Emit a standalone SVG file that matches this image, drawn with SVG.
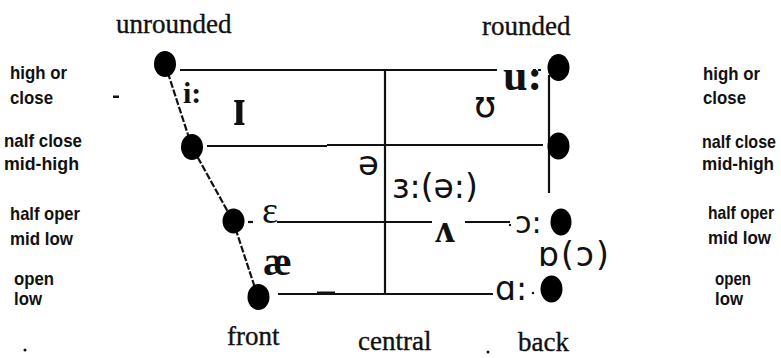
<svg xmlns="http://www.w3.org/2000/svg" width="781" height="358" viewBox="0 0 781 358">
<style>
.lbl{font-family:"Liberation Sans",Arial,sans-serif;font-weight:bold;font-size:19px;fill:#111}
.hdr{font-family:"Liberation Serif","Times New Roman",serif;font-size:27px;fill:#111;stroke:#111;stroke-width:0.35}
.ser{font-family:"Liberation Serif","Times New Roman",serif;fill:#111}
.sans{font-family:"DejaVu Sans",sans-serif;fill:#111}
.ln{stroke:#111;stroke-width:2.2;fill:none}
.dash{stroke-dasharray:7 2}
.dot{fill:#000}
</style>
<rect width="781" height="358" fill="#fff"/>
<g id="connectors">
  <line class="ln" x1="180" y1="70" x2="497" y2="70"/>
  <line class="ln" x1="207" y1="146" x2="327" y2="146"/>
  <line class="ln" x1="327" y1="145" x2="543" y2="145"/>
  <line class="ln" x1="385" y1="70" x2="385" y2="294"/>
  <line class="ln" x1="277" y1="222" x2="432" y2="222"/>
  <line class="ln" x1="465" y1="222" x2="510" y2="222"/>
  <line class="ln" x1="278" y1="294" x2="493" y2="294"/>
  <rect x="317" y="291.5" width="18" height="3.5" fill="#111"/>
  <polyline class="ln dash" points="165,64 192,147 233,221 258,297"/>
  <line class="ln" x1="549" y1="75" x2="549" y2="193"/>
  <line class="ln" x1="248" y1="222" x2="253" y2="222"/>
  <line class="ln" x1="533" y1="70" x2="542" y2="70" stroke-dasharray="3 2"/>
</g>
<g id="dot-front-high"><ellipse class="dot" cx="165" cy="64" rx="11" ry="13"/></g>
<g id="dot-front-midhigh"><ellipse class="dot" cx="192" cy="147" rx="11" ry="13"/></g>
<g id="dot-front-midlow"><ellipse class="dot" cx="233.5" cy="221" rx="11" ry="12.5"/></g>
<g id="dot-front-low"><ellipse class="dot" cx="258.5" cy="297" rx="11" ry="13"/></g>
<g id="dot-back-high"><ellipse class="dot" cx="558.5" cy="67.5" rx="11" ry="13.5"/></g>
<g id="dot-back-midhigh"><ellipse class="dot" cx="558.5" cy="146" rx="11" ry="13.5"/></g>
<g id="dot-back-midlow"><ellipse class="dot" cx="561" cy="222" rx="10.5" ry="13.5"/></g>
<g id="dot-back-low"><ellipse class="dot" cx="551.5" cy="289" rx="11" ry="13.5"/></g>
<g id="vowels">
  <text class="ser" font-weight="bold" font-size="30" x="183" y="103">i:</text>
  <text class="ser" font-weight="bold" font-size="44" transform="translate(233,125) scale(1,1.25)">ɪ</text>
  <text class="sans" font-size="36" x="474" y="117">ʊ</text>
  <text class="ser" font-weight="bold" font-size="44" x="503" y="90">u:</text>
  <text class="sans" font-size="34" x="358" y="175">ə</text>
  <text class="sans" font-size="33" x="392" y="198">ɜ:(ə:)</text>
  <text class="ser" font-size="38" x="262" y="223">ɛ</text>
  <text class="ser" font-weight="bold" font-size="40" x="263" y="275">æ</text>
  <text class="ser" font-weight="bold" font-size="40" x="435" y="242">ʌ</text>
  <text class="sans" font-size="30" x="515" y="233">ɔ:</text>
  <text class="sans" font-size="33" x="538" y="266" letter-spacing="2">ɒ(ɔ)</text>
  <text class="sans" font-size="33" x="495" y="300">ɑ:</text>
</g>
<g id="headers">
  <text class="hdr" x="116" y="33">unrounded</text>
  <text class="hdr" x="482" y="35">rounded</text>
  <text class="hdr" x="227" y="345">front</text>
  <text class="hdr" x="358" y="350">central</text>
  <text class="hdr" x="518" y="351">back</text>
</g>
<g id="left-labels">
  <text class="lbl" x="10" y="79" textLength="57" lengthAdjust="spacingAndGlyphs">high or</text>
  <text class="lbl" x="10" y="104" textLength="43" lengthAdjust="spacingAndGlyphs">close</text>
  <text class="lbl" x="4" y="147" textLength="78" lengthAdjust="spacingAndGlyphs">nalf close</text>
  <text class="lbl" x="4" y="170" textLength="75" lengthAdjust="spacingAndGlyphs">mid-high</text>
  <text class="lbl" x="10" y="220" textLength="70" lengthAdjust="spacingAndGlyphs">half oper</text>
  <text class="lbl" x="10" y="245" textLength="63" lengthAdjust="spacingAndGlyphs">mid low</text>
  <text class="lbl" x="14" y="285" textLength="40" lengthAdjust="spacingAndGlyphs">open</text>
  <text class="lbl" x="14" y="305" textLength="28" lengthAdjust="spacingAndGlyphs">low</text>
</g>
<g id="right-labels">
  <text class="lbl" x="703" y="80" textLength="57" lengthAdjust="spacingAndGlyphs">high or</text>
  <text class="lbl" x="703" y="104" textLength="43" lengthAdjust="spacingAndGlyphs">close</text>
  <text class="lbl" x="702" y="148" textLength="74" lengthAdjust="spacingAndGlyphs">nalf close</text>
  <text class="lbl" x="702" y="170" textLength="72" lengthAdjust="spacingAndGlyphs">mid-high</text>
  <text class="lbl" x="708" y="219" textLength="66" lengthAdjust="spacingAndGlyphs">half oper</text>
  <text class="lbl" x="708" y="244" textLength="63" lengthAdjust="spacingAndGlyphs">mid low</text>
  <text class="lbl" x="715" y="285" textLength="36" lengthAdjust="spacingAndGlyphs">open</text>
  <text class="lbl" x="715" y="305" textLength="28" lengthAdjust="spacingAndGlyphs">low</text>
</g>
<g id="specks" fill="#111">
  <rect x="113" y="95.5" width="6" height="2.5"/>
  <circle cx="25" cy="350" r="1.5"/>
  <circle cx="510" cy="225" r="1.2"/>
  <circle cx="533" cy="293" r="1.2"/>
  <circle cx="488" cy="352" r="1.5"/>
</g>
</svg>
